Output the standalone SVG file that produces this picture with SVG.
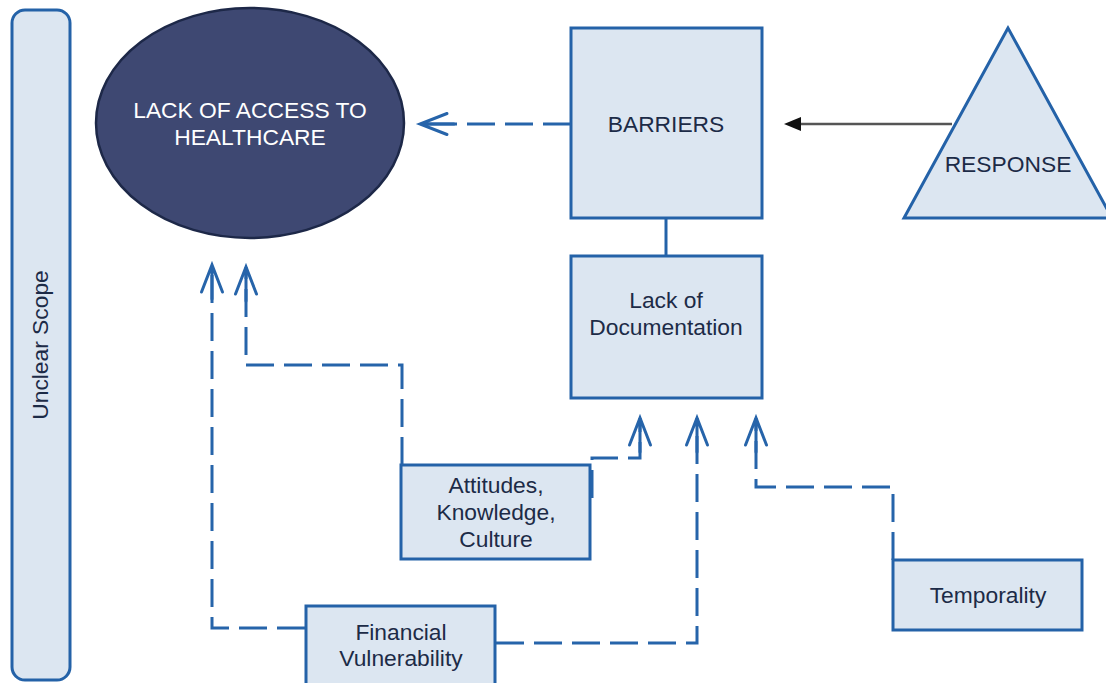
<svg xmlns="http://www.w3.org/2000/svg" width="1106" height="683" viewBox="0 0 1106 683">
<style>
.box{fill:#dce6f1;stroke:#2462a8;stroke-width:3}
.t{font-family:"Liberation Sans",Arial,sans-serif;font-size:22.8px;fill:#1c2b47;text-anchor:middle}
.tw{font-family:"Liberation Sans",Arial,sans-serif;font-size:22.8px;fill:#ffffff;text-anchor:middle}
.dash{fill:none;stroke:#2664aa;stroke-width:3;stroke-dasharray:28 10}
.solid{fill:none;stroke:#2462a8;stroke-width:3}
</style>
<defs>
<marker id="open" markerUnits="userSpaceOnUse" viewBox="-36 -15 40 30" refX="0" refY="0" markerWidth="40" markerHeight="30" orient="auto" overflow="visible">
<path d="M-27,-10.5 L0,0 L-27,10.5 M-34,0 L0,0" fill="none" stroke="#2664aa" stroke-width="3" stroke-linecap="round" stroke-linejoin="miter"/>
</marker>
<marker id="solidtip" markerUnits="userSpaceOnUse" viewBox="-12 -9 22 18" refX="0" refY="0" markerWidth="22" markerHeight="18" orient="auto" overflow="visible">
<path d="M-10,-7 L7,0 L-10,7 Z" fill="#111111"/>
</marker>
</defs>
<g id="unclear-scope">
<rect class="box" x="12" y="10" width="58" height="670" rx="13" ry="13"/>
<text class="t" transform="translate(48,345) rotate(-90)">Unclear Scope</text>
</g>
<g id="lack-of-access">
<ellipse cx="250" cy="123" rx="154" ry="115" fill="#3e4872" stroke="#1d2848" stroke-width="2.5"/>
<text class="tw" x="250" y="118">LACK OF ACCESS TO</text>
<text class="tw" x="250" y="145">HEALTHCARE</text>
</g>
<g id="barriers">
<rect class="box" x="571" y="28" width="191" height="190"/>
<text class="t" x="666" y="132">BARRIERS</text>
</g>
<g id="response">
<polygon class="box" points="1008,28 904,218 1112,218"/>
<text class="t" x="1008" y="172">RESPONSE</text>
</g>
<g id="lack-of-documentation">
<rect class="box" x="571" y="256" width="191" height="142"/>
<text class="t" x="666" y="308">Lack of</text>
<text class="t" x="666" y="335">Documentation</text>
</g>
<g id="attitudes">
<rect class="box" x="401" y="465" width="189" height="94"/>
<text class="t" x="496" y="493">Attitudes,</text>
<text class="t" x="496" y="520">Knowledge,</text>
<text class="t" x="496" y="547">Culture</text>
</g>
<g id="financial">
<rect class="box" x="306" y="606" width="189" height="90"/>
<text class="t" x="401" y="640">Financial</text>
<text class="t" x="401" y="666">Vulnerability</text>
</g>
<g id="temporality">
<rect class="box" x="893" y="560" width="189" height="70"/>
<text class="t" x="988" y="603">Temporality</text>
</g>
<g id="connectors">
<path class="dash" d="M571,124 H420" marker-end="url(#open)"/>
<line x1="952" y1="124" x2="791" y2="124" stroke="#555555" stroke-width="2.5" marker-end="url(#solidtip)"/>
<line class="solid" x1="666" y1="218" x2="666" y2="256"/>
<path class="dash" d="M305,628 H212 V265" marker-end="url(#open)"/>
<path class="dash" d="M402,465 V365 H246 V267" marker-end="url(#open)"/>
<path class="dash" d="M592,498 V458 H640 V418" marker-end="url(#open)"/>
<path class="dash" d="M496,643 H697 V418" marker-end="url(#open)"/>
<path class="dash" d="M893,560 V487 H756 V418" marker-end="url(#open)"/>
</g>
</svg>
